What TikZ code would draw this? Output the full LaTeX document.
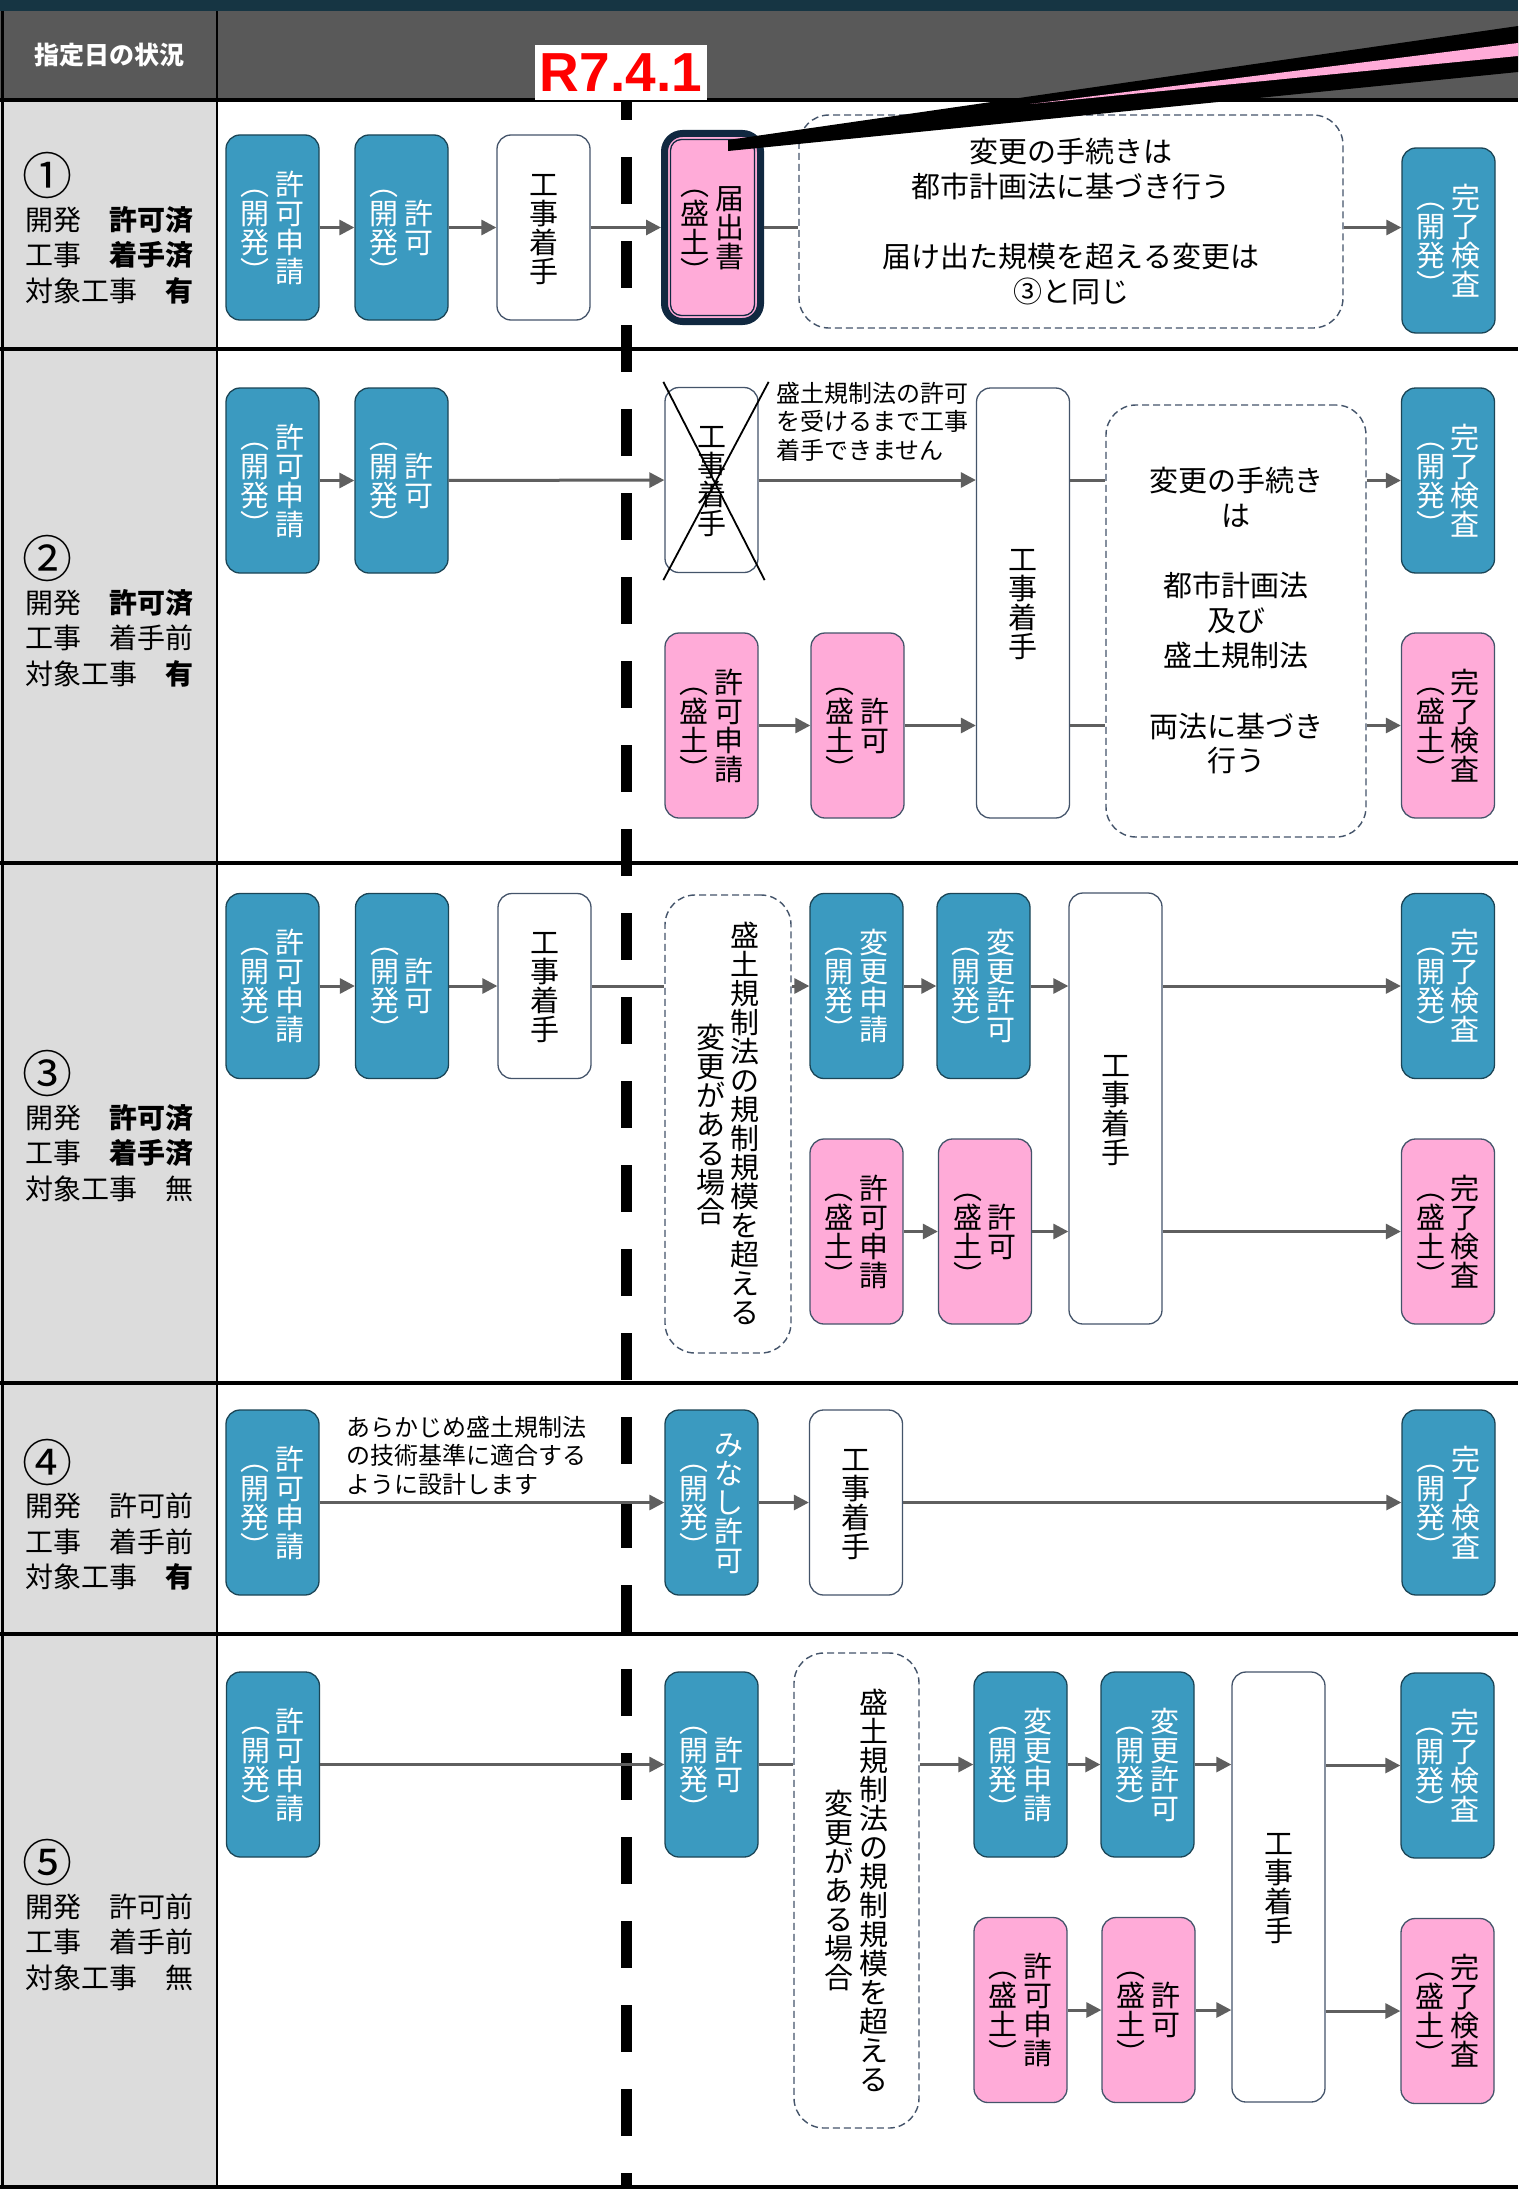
\documentclass[tikz,border=0pt]{standalone}
\usepackage{fontspec}
\setmainfont{Noto Sans CJK JP}
\newfontfamily\latinfont{Liberation Sans}
\usepackage{tikz}
\usetikzlibrary{arrows.meta,calc}
\definecolor{navytop}{HTML}{163543}
\definecolor{headgray}{HTML}{595959}
\definecolor{sidegray}{HTML}{DCDCDC}
\definecolor{devteal}{HTML}{3B9AC0}
\definecolor{softpink}{HTML}{FFABD8}
\definecolor{slate}{HTML}{44546A}
\definecolor{arrowgray}{HTML}{5F5F5F}
\definecolor{alertred}{HTML}{FF0000}
\definecolor{noticenavy}{HTML}{102840}
\newcommand{\boxfont}{\fontsize{29pt}{35pt}\selectfont}
\newcommand{\memofont}{\fontsize{24pt}{28.5pt}\selectfont}
\newcommand{\condfont}{\fontsize{28pt}{35.5pt}\selectfont}
\newcommand{\markfont}{\fontsize{50pt}{50pt}\selectfont}
\newcommand{\headfont}{\fontsize{25pt}{25pt}\selectfont\bfseries}
\newcommand{\datefont}{\fontsize{55pt}{55pt}\selectfont\latinfont\bfseries}
\newcommand{\tatestep}[1]{\ifx\relax#1\else\hbox to 1em{\hss\vrule height .88em depth .12em width 0pt#1\hss}\expandafter\tatestep\fi}
\newcommand{\tatecol}[1]{\vcenter{\offinterlineskip\tatestep#1\relax}}
\newcommand{\tateone}[1]{$\tatecol{#1}$}
\newcommand{\tatetwo}[2]{$\tatecol{#2}\hskip.2em\tatecol{#1}$}

\begin{document}
\begin{tikzpicture}[x=1pt,y=-1pt,
  devbox/.style={draw=devteal!45!black,fill=devteal,text=white,rounded corners=14pt,minimum width=93pt,minimum height=185pt,inner sep=0pt,line width=1.3pt,font=\boxfont},
  morbox/.style={devbox,fill=softpink,text=black,draw=slate},
  workbox/.style={devbox,fill=white,text=black,draw=slate},
  notebox/.style={draw=slate,dashed,dash pattern=on 7pt off 4pt,rounded corners=30pt,line width=1.4pt,inner sep=0pt,font=\boxfont,align=center},
  flow/.style={arrowgray,line width=3pt,-{Triangle[length=15pt,width=15pt]}},
  link/.style={arrowgray,line width=3pt},
  memo/.style={font=\memofont,align=left,anchor=north west,inner sep=0pt}]
  \useasboundingbox (0,0) rectangle (1518,2189);
  \fill[white] (0,0) rectangle (1518,2189);
  \fill[sidegray] (0,100) rectangle (217,2189);
  \fill[headgray] (0,11) rectangle (1518,100);
  \fill[navytop] (0,0) rectangle (1518,11);
  \foreach \yy in {100,349,863,1383,1634,2187} {
    \draw[line width=3.5pt] (0,\yy) -- (1518,\yy);
  }
  \draw[line width=2.5pt] (217,11) -- (217,2189);
  \draw[line width=2.5pt] (2.5,11) -- (2.5,2189);
  \node[text=white,font=\headfont] (headlabel) at (109,55) {指定日の状況};
  \foreach \mark/\ny/\devst/\workst/\objst [count=\r] in {
    ①/175/\textbf{許可済}/\textbf{着手済}/\textbf{有},
    ②/558/\textbf{許可済}/着手前/\textbf{有},
    ③/1073/\textbf{許可済}/\textbf{着手済}/無,
    ④/1462/許可前/着手前/\textbf{有},
    ⑤/1862/許可前/着手前/無} {
    \node[font=\markfont,inner sep=0pt] (mark\r) at (48,\ny) {\mark};
    \node[font=\condfont,align=left,anchor=west,inner sep=0pt] (cond\r) at (25,\ny+80) {開発　\devst\\工事　\workst\\対象工事　\objst};
  }
  \draw[line width=11pt,dash pattern=on 47pt off 37pt] (626,73) -- (626,2189);
  \node[fill=white,minimum width=172pt,minimum height=55pt,inner sep=0pt,text=alertred,font=\datefont] (dateR) at (621,72.5) {R7.4.1};

  \node[devbox] (apply1) at (272.5,227.5) {\tatetwo{許可申請}{︵開発︶}};
  \node[devbox] (permit1) at (401.5,227.5) {\tatetwo{許可}{︵開発︶}};
  \node[workbox] (start1) at (543.5,227.5) {\tateone{工事着手}};
  \node[morbox,draw=noticenavy,line width=7pt,minimum width=96pt,minimum height=188pt,rounded corners=18pt] (notice1) at (712.5,227.5) {};
  \node[draw=noticenavy,line width=1.3pt,rounded corners=11pt,minimum width=84pt,minimum height=176pt,inner sep=0pt,font=\boxfont] (noticetext1) at (notice1.center) {\tatetwo{届出書}{︵盛土︶}};
  \node[notebox,minimum width=544pt,minimum height=213pt] (rule1) at (1071,221.5) {変更の手続きは\\都市計画法に基づき行う\\[35pt]届け出た規模を超える変更は\\③と同じ};
  \node[devbox] (check1) at (1448.5,240.5) {\tatetwo{完了検査}{︵開発︶}};
  \draw[flow] (apply1) -- (permit1);
  \draw[flow] (permit1) -- (start1);
  \draw[flow] (start1) -- (notice1);
  \draw[link] (notice1) -- (notice1 -| rule1.west);
  \draw[flow] (notice1 -| rule1.east) -- (notice1 -| check1.west);

  \node[devbox] (apply2) at (272.5,480.5) {\tatetwo{許可申請}{︵開発︶}};
  \node[devbox] (permit2) at (401.5,480.5) {\tatetwo{許可}{︵開発︶}};
  \node[workbox] (barred2) at (711.5,480) {\tateone{工事着手}};
  \draw[line width=1.8pt] ($(barred2.north west)+(-1,-5)$) -- ($(barred2.south east)+(6,7)$);
  \draw[line width=1.8pt] ($(barred2.north east)+(10,-5)$) -- ($(barred2.south west)+(-1,7)$);
  \node[memo] (wait2) at (776,382) {盛土規制法の許可\\を受けるまで工事\\着手できません};
  \node[workbox,minimum height=430pt] (start2) at (1023,603) {\tateone{工事着手}};
  \node[morbox] (mapply2) at (711.5,725.5) {\tatetwo{許可申請}{︵盛土︶}};
  \node[morbox] (mpermit2) at (857.5,725.5) {\tatetwo{許可}{︵盛土︶}};
  \node[notebox,minimum width=260pt,minimum height=432pt] (rule2) at (1236,621) {変更の手続き\\は\\[35pt]都市計画法\\及び\\盛土規制法\\[35pt]両法に基づき\\行う};
  \node[devbox] (dcheck2) at (1448,480.5) {\tatetwo{完了検査}{︵開発︶}};
  \node[morbox] (mcheck2) at (1448,725.5) {\tatetwo{完了検査}{︵盛土︶}};
  \draw[flow] (apply2) -- (permit2);
  \draw[flow] (permit2) -- (barred2);
  \draw[flow] (barred2) -- (barred2 -| start2.west);
  \draw[flow] (mapply2) -- (mpermit2);
  \draw[flow] (mpermit2) -- (mpermit2 -| start2.west);
  \draw[link] (barred2 -| start2.east) -- (barred2 -| rule2.west);
  \draw[link] (mpermit2 -| start2.east) -- (mpermit2 -| rule2.west);
  \draw[flow] (dcheck2 -| rule2.east) -- (dcheck2);
  \draw[flow] (mcheck2 -| rule2.east) -- (mcheck2);

  \node[devbox] (apply3) at (272.5,986) {\tatetwo{許可申請}{︵開発︶}};
  \node[devbox] (permit3) at (402,986) {\tatetwo{許可}{︵開発︶}};
  \node[workbox] (start3) at (544.5,986) {\tateone{工事着手}};
  \node[notebox,minimum width=126pt,minimum height=458pt] (rule3) at (728,1124) {\tatetwo{盛土規制法の規制規模を超える}{変更がある場合}};
  \node[devbox] (chg3) at (856.5,986) {\tatetwo{変更申請}{︵開発︶}};
  \node[devbox] (chgok3) at (983.5,986) {\tatetwo{変更許可}{︵開発︶}};
  \node[workbox,minimum height=431pt] (works3) at (1115.5,1108.5) {\tateone{工事着手}};
  \node[devbox] (dcheck3) at (1448,986) {\tatetwo{完了検査}{︵開発︶}};
  \node[morbox] (mapply3) at (856.5,1231.5) {\tatetwo{許可申請}{︵盛土︶}};
  \node[morbox] (mpermit3) at (985,1231.5) {\tatetwo{許可}{︵盛土︶}};
  \node[morbox] (mcheck3) at (1448,1231.5) {\tatetwo{完了検査}{︵盛土︶}};
  \draw[flow] (apply3) -- (permit3);
  \draw[flow] (permit3) -- (start3);
  \draw[link] (start3) -- (start3 -| rule3.west);
  \draw[flow] (chg3 -| rule3.east) -- (chg3);
  \draw[flow] (chg3) -- (chgok3);
  \draw[flow] (chgok3) -- (chgok3 -| works3.west);
  \draw[flow] (dcheck3 -| works3.east) -- (dcheck3);
  \draw[flow] (mapply3) -- (mpermit3);
  \draw[flow] (mpermit3) -- (mpermit3 -| works3.west);
  \draw[flow] (mcheck3 -| works3.east) -- (mcheck3);

  \node[devbox] (apply4) at (272.5,1502.5) {\tatetwo{許可申請}{︵開発︶}};
  \node[memo] (design4) at (346,1416) {あらかじめ盛土規制法\\の技術基準に適合する\\ように設計します};
  \node[devbox] (deemed4) at (711.5,1502.5) {\tatetwo{みなし許可}{︵開発︶}};
  \node[workbox] (start4) at (856,1502.5) {\tateone{工事着手}};
  \node[devbox] (dcheck4) at (1448.5,1502.5) {\tatetwo{完了検査}{︵開発︶}};
  \draw[flow] (apply4) -- (deemed4);
  \draw[flow] (deemed4) -- (start4);
  \draw[flow] (start4) -- (dcheck4);

  \node[devbox] (apply5) at (273,1764.5) {\tatetwo{許可申請}{︵開発︶}};
  \node[devbox] (permit5) at (711.5,1764.5) {\tatetwo{許可}{︵開発︶}};
  \node[notebox,minimum width=125pt,minimum height=475pt] (rule5) at (856.5,1890.5) {\tatetwo{盛土規制法の規制規模を超える}{変更がある場合}};
  \node[devbox] (chg5) at (1020.5,1764.5) {\tatetwo{変更申請}{︵開発︶}};
  \node[devbox] (chgok5) at (1147.5,1764.5) {\tatetwo{変更許可}{︵開発︶}};
  \node[workbox,minimum height=430pt] (works5) at (1278.5,1887) {\tateone{工事着手}};
  \node[devbox] (dcheck5) at (1447.5,1765.5) {\tatetwo{完了検査}{︵開発︶}};
  \node[morbox] (mapply5) at (1020.5,2010) {\tatetwo{許可申請}{︵盛土︶}};
  \node[morbox] (mpermit5) at (1148.5,2010) {\tatetwo{許可}{︵盛土︶}};
  \node[morbox] (mcheck5) at (1447.5,2011) {\tatetwo{完了検査}{︵盛土︶}};
  \draw[flow] (apply5) -- (permit5);
  \draw[link] (permit5) -- (permit5 -| rule5.west);
  \draw[flow] (chg5 -| rule5.east) -- (chg5);
  \draw[flow] (chg5) -- (chgok5);
  \draw[flow] (chgok5) -- (chgok5 -| works5.west);
  \draw[flow] (dcheck5 -| works5.east) -- (dcheck5);
  \draw[flow] (mapply5) -- (mpermit5);
  \draw[flow] (mpermit5) -- (mpermit5 -| works5.west);
  \draw[flow] (mcheck5 -| works5.east) -- (mcheck5);

  \fill[black] (728,140) -- (1518,26) -- (1518,72) -- (728,151) -- cycle;
  \fill[softpink] (1030,104) -- (1518,43) -- (1518,56) -- cycle;
\end{tikzpicture}
\end{document}
